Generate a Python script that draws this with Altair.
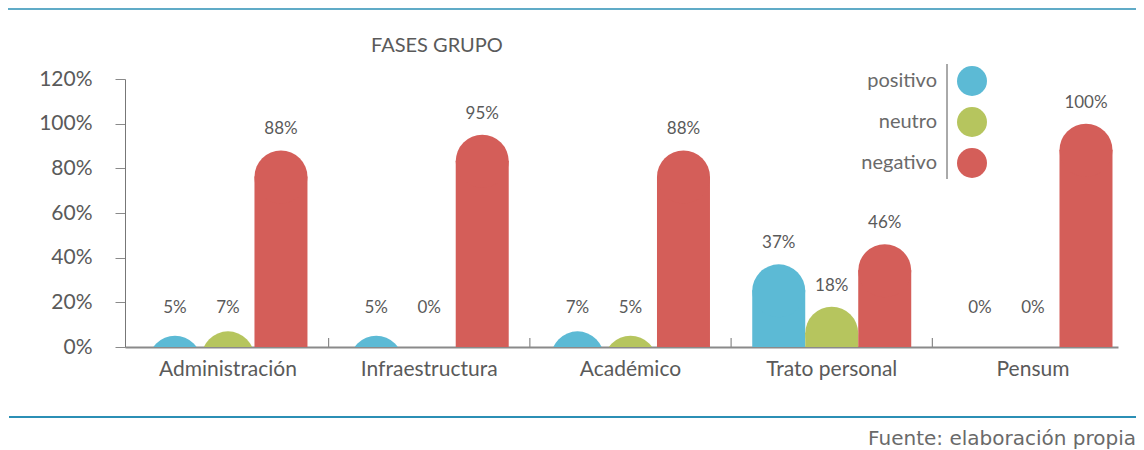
import altair as alt
import pandas as pd

categories = ["Administración", "Infraestructura", "Académico", "Trato personal", "Pensum"]
series = ["positivo", "neutro", "negativo"]
positivo = [5, 5, 7, 37, 0]
neutro = [7, 0, 5, 18, 0]
negativo = [88, 95, 88, 46, 100]
colors = ["#5CBAD5", "#B6C55E", "#D45E59"]
y_ticks = [0, 20, 40, 60, 80, 100, 120]

rows = []
for s, vals in zip(series, [positivo, neutro, negativo]):
    for c, v in zip(categories, vals):
        rows.append({"cat": c, "series": s, "value": v})
df = pd.DataFrame(rows)
ticks_df = pd.DataFrame({"cat": categories[:-1]})
legend_df = pd.DataFrame({"series": series})
one = pd.DataFrame({"a": [0]})

W, H = 993, 268
PI, PO, AL = 0.21, 0.072, 0.81
step = W / (len(categories) - PI + 2 * PO)
bw = step * (1 - PI) / 3
r = bw / 2
gap = PI * step

FONT = "Lato"
FW = "normal"
GRAY = "#5a5a5a"

xscale = alt.Scale(domain=categories, paddingInner=PI, paddingOuter=PO, align=AL)
xaxis = alt.Axis(title=None, ticks=False, labelAngle=0, labelFont=FONT, labelFontSize=21,
                 labelFontWeight=FW, labelColor=GRAY, labelPadding=11,
                 domainColor="#8a8a8a", domainWidth=2)
yscale = alt.Scale(domain=[0, 120], nice=False)
yaxis = alt.Axis(title=None, values=y_ticks, labelExpr="datum.value + '%'", grid=False,
                 tickSize=10, tickColor="#8a8a8a", labelPadding=23, labelFont=FONT,
                 labelFontSize=21, labelFontWeight=FW, labelColor=GRAY, domainColor="#777777")

X = alt.X("cat:N", scale=xscale, axis=xaxis)
XO = alt.XOffset("series:N", scale=alt.Scale(domain=series, paddingInner=0, paddingOuter=0))
C = alt.Color("series:N", scale=alt.Scale(domain=series, range=colors), legend=None)

base = alt.Chart(df)

bars = base.mark_bar(yOffset=r - 0.5, y2Offset=0, clip=True).encode(
    x=X, xOffset=XO, y=alt.Y("value:Q", scale=yscale, axis=yaxis), y2=alt.datum(0), color=C
)
caps = base.mark_circle(size=(2 * r) ** 2, yOffset=r, opacity=1, strokeWidth=0, clip=True).encode(
    x=X, xOffset=XO, y=alt.Y("value:Q", scale=yscale, axis=None), color=C
)
labels = base.transform_calculate(
    label_y="max(datum.value, 8)", label_text="datum.value + '%'"
).mark_text(dy=-21, font=FONT, fontSize=17, fontWeight=FW, color=GRAY).encode(
    x=X, xOffset=XO, y=alt.Y("label_y:Q", scale=yscale, axis=None), text="label_text:N"
)

xticks = alt.Chart(ticks_df).mark_rule(color="#8a8a8a", strokeWidth=1.2, xOffset=gap / 2).encode(
    x=alt.X("cat:N", scale=xscale, axis=xaxis, bandPosition=1),
    y=alt.value(H - 9), y2=alt.value(H),
)

# manual legend (labels left of symbols, separated by a vertical line)
LY = alt.Y("series:N", scale=alt.Scale(type="point", domain=series, range=[2, 84], padding=0), axis=None)
leg_sym = alt.Chart(legend_df).mark_circle(size=900, opacity=1, strokeWidth=0).encode(
    x=alt.value(847), y=LY, color=C
)
leg_txt = alt.Chart(legend_df).mark_text(align="right", baseline="middle", font=FONT,
                                         fontSize=20, fontWeight=FW, color="#6a6a6a").encode(
    x=alt.value(812), y=LY, text="series:N"
)
legend_line = alt.Chart(one).mark_rule(color="#555555", strokeWidth=1).encode(
    x=alt.value(822), y=alt.value(-15), y2=alt.value(100)
)
top_line = alt.Chart(one).mark_rule(color="#2B8FB5", strokeWidth=1.5).encode(
    x=alt.value(-117), x2=alt.value(1011), y=alt.value(-70)
)
bottom_line = alt.Chart(one).mark_rule(color="#2B8FB5", strokeWidth=2).encode(
    x=alt.value(-116), x2=alt.value(1011), y=alt.value(338)
)
title = alt.Chart(one).mark_text(text="FASES GRUPO", align="left", baseline="alphabetic",
                                 font=FONT, fontSize=20, fontWeight=FW, color=GRAY).encode(
    x=alt.value(246), y=alt.value(-27)
)
source = alt.Chart(one).mark_text(text="Fuente: elaboración propia", align="right",
                                  baseline="alphabetic", font="DejaVu Sans", fontSize=20,
                                  color="#6a6a6a").encode(
    x=alt.value(1011), y=alt.value(366)
)

chart = alt.layer(
    bars, caps, labels, xticks, leg_sym, leg_txt, legend_line, top_line, bottom_line, title, source
).resolve_scale(y="independent").properties(
    width=W, height=H,
    padding={"left": 117, "top": 71, "right": 18, "bottom": 110},
    autosize=alt.AutoSizeParams(type="none"),
).configure_view(stroke=None)

chart.save("out.html", embed_options={"renderer": "svg", "actions": False})
